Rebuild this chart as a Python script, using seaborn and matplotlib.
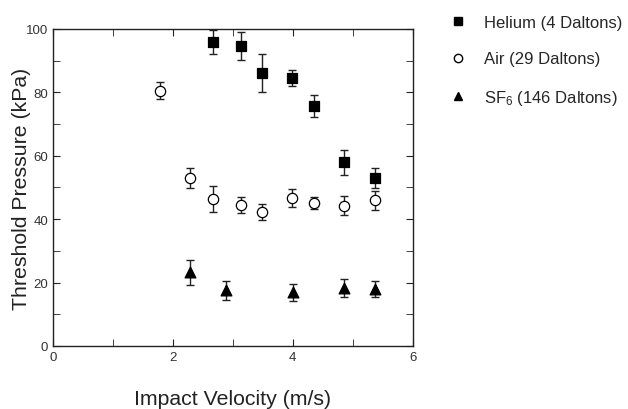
import matplotlib
matplotlib.use("Agg")
import matplotlib.pyplot as plt
import seaborn as sns
import pandas as pd
from matplotlib.ticker import MultipleLocator
from matplotlib.lines import Line2D

sns.set_style("ticks")
plt.rcParams['font.family'] = ['Liberation Sans', 'DejaVu Sans']
plt.rcParams['mathtext.fontset'] = 'custom'
plt.rcParams['mathtext.rm'] = 'Liberation Sans'
plt.rcParams['mathtext.it'] = 'Liberation Sans'

he_x = [2.67, 3.14, 3.48, 3.99, 4.36, 4.85, 5.38]
he_y = [96.0, 94.5, 86.0, 84.5, 75.6, 57.9, 53.0]
he_e = [3.8, 4.4, 6.0, 2.6, 3.5, 4.0, 3.2]

air_x = [1.78, 2.28, 2.67, 3.14, 3.48, 3.99, 4.36, 4.85, 5.38]
air_y = [80.5, 53.0, 46.4, 44.5, 42.2, 46.7, 45.1, 44.3, 46.0]
air_e = [2.7, 3.1, 4.2, 2.5, 2.6, 2.9, 2.0, 3.0, 3.0]

sf_x = [2.28, 2.88, 4.00, 4.85, 5.38]
sf_y = [23.2, 17.5, 16.9, 18.3, 18.0]
sf_e = [4.0, 2.9, 2.6, 2.7, 2.4]

labels = ["Helium (4 Daltons)", "Air (29 Daltons)", "SF$_6$ (146 Daltons)"]

df = pd.concat([
    pd.DataFrame({"x": he_x, "y": he_y, "e": he_e, "gas": labels[0]}),
    pd.DataFrame({"x": air_x, "y": air_y, "e": air_e, "gas": labels[1]}),
    pd.DataFrame({"x": sf_x, "y": sf_y, "e": sf_e, "gas": labels[2]}),
])

fig = plt.figure(figsize=(6.28, 4.10), dpi=100)
ax = fig.add_axes([0.0844, 0.1537, 0.5726, 0.7733])

for g in labels:
    d = df[df.gas == g]
    ax.errorbar(d.x, d.y, yerr=d.e, fmt='none', ecolor='#222222', elinewidth=1.0,
                capsize=3.2, capthick=1.0, zorder=2)

styles = {
    labels[0]: dict(marker='s', s=48, facecolor='black'),
    labels[1]: dict(marker='o', s=55, facecolor='white'),
    labels[2]: dict(marker='^', s=60, facecolor='black'),
}
for g in labels:
    d = df[df.gas == g]
    st = styles[g]
    sns.scatterplot(data=d, x="x", y="y", marker=st['marker'], s=st['s'],
                    facecolor=st['facecolor'], edgecolor='black', linewidth=0.9,
                    ax=ax, legend=False, zorder=3)

ax.set_xlim(0, 6)
ax.set_ylim(0, 100)
ax.xaxis.set_major_locator(MultipleLocator(2))
ax.xaxis.set_minor_locator(MultipleLocator(1))
ax.yaxis.set_major_locator(MultipleLocator(20))
ax.yaxis.set_minor_locator(MultipleLocator(10))
ax.tick_params(which='both', direction='in', top=True, right=True, labelsize=9.5,
               labelcolor='#333333', color='#222222')
ax.tick_params(which='major', length=5)
ax.tick_params(which='minor', length=5)
for s in ax.spines.values():
    s.set_linewidth(1.0)
    s.set_color('#222222')

ax.set_xlabel("Impact Velocity (m/s)", fontsize=15.3, labelpad=19, color='#222222')
ax.set_ylabel("Threshold Pressure (kPa)", fontsize=15.3, labelpad=-4, color='#222222')

handles = [
    Line2D([], [], marker='s', color='black', linestyle='none', markersize=5.5),
    Line2D([], [], marker='o', markerfacecolor='white', markeredgecolor='black', linestyle='none', markersize=6),
    Line2D([], [], marker='^', color='black', linestyle='none', markersize=6),
]
fig.legend(handles, labels, loc='upper left', bbox_to_anchor=(0.69, 0.998), frameon=False,
           fontsize=12, labelspacing=1.3, handletextpad=0.95, handlelength=1.2)

fig.savefig("out.png", dpi=100)
